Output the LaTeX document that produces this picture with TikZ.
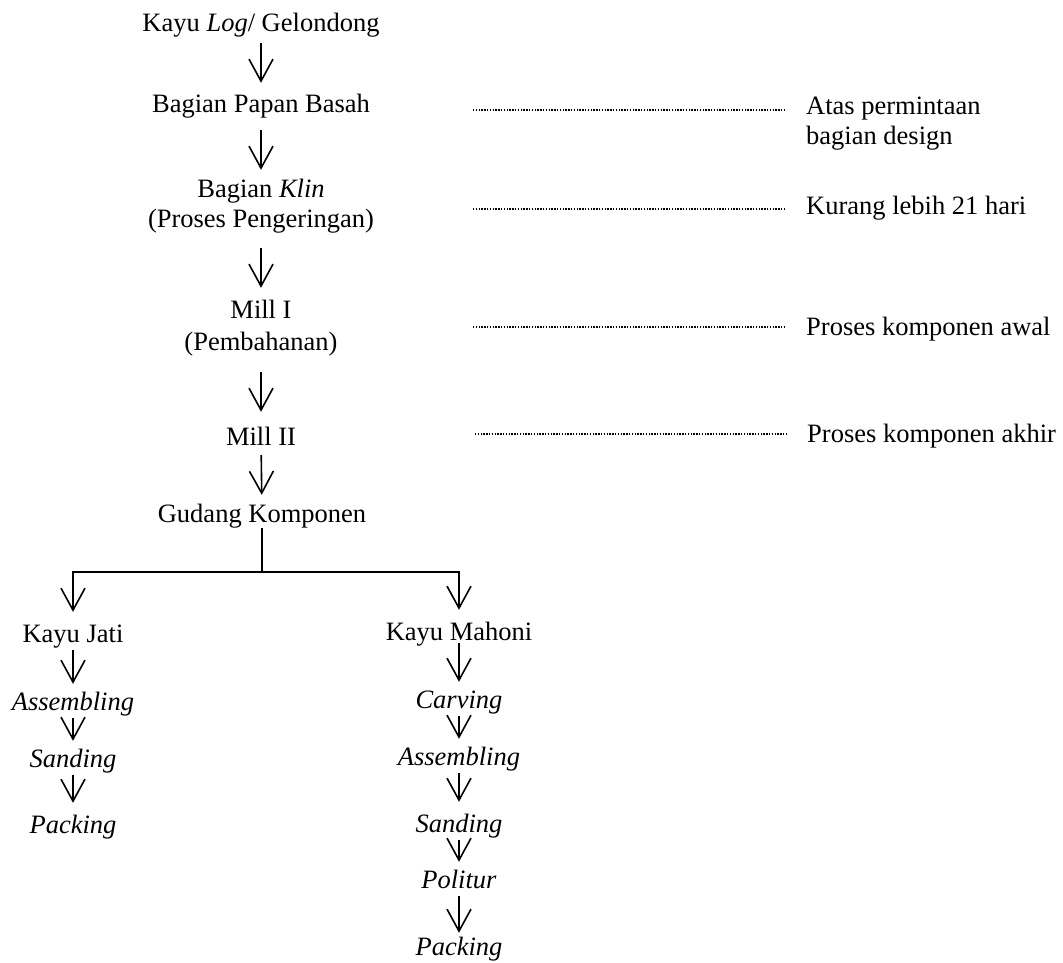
\documentclass[tikz,border=0pt]{standalone}
\usepackage{fontspec}
\setmainfont{Liberation Serif}
\usetikzlibrary{arrows.meta}
\begin{document}
\begin{tikzpicture}[
    x=1pt, y=-1pt,  % on compte en points, vers le bas
    % Étapes du processus
    proc/.style={inner sep=0pt, anchor=base, text height=19pt, text depth=6pt,
        font=\fontsize{26.5}{31}\selectfont},
    % Remarques à droite
    note/.style={inner sep=0pt, anchor=base west, font=\fontsize{26.5}{31}\selectfont},
    flow/.style={-{Straight Barb[length=22pt, width=24pt]}, line width=1.6pt,
        shorten <=2pt, shorten >=7pt},
    dots/.style={line width=1.4pt, dash pattern=on 1.4pt off 1.4pt, shorten >=21pt}
]
\useasboundingbox (0,0) rectangle (1063,963);
% Colonne principale
\node[proc] (log) at (261,32) {Kayu \textit{Log}/ Gelondong};
\node[proc] (papan) at (261,113) {Bagian Papan Basah};
\node[proc] (klin) at (261,197) {Bagian \textit{Klin}};
\node[proc] (peng) at (261,227) {(Proses Pengeringan)};
\node[proc] (mill1) at (261,318) {Mill I};
\node[proc] (pemb) at (261,350) {(Pembahanan)};
\node[proc] (mill2) at (261,445) {Mill II};
\node[proc] (gudang) at (262,522) {Gudang Komponen};
\draw[flow, shorten <=5pt, shorten >=11pt] (log) -- (papan);
\draw[flow, shorten <=11pt, shorten >=8pt] (papan) -- (klin);
\draw[flow, shorten <=15pt, shorten >=11pt] (peng) -- (mill1);
\draw[flow, shorten <=16pt, shorten >=14pt] (pemb) -- (mill2);
\draw[flow, shorten <=4pt, shorten >=8pt] (mill2) -- (gudang);
% Remarques
\node[note] (atas) at (806,115) {Atas permintaan};
\node[note] (design) at (806,145) {bagian design};
\node[note] (kurang) at (806,214) {Kurang lebih 21 hari};
\node[note] (awal) at (806,335) {Proses komponen awal};
\node[note] (akhir) at (807,442) {Proses komponen akhir};
\coordinate (d1) at (473,110);
\coordinate (d2) at (473,209);
\coordinate (d3) at (473,327);
\coordinate (d4) at (475,434);
\draw[dots] (d1) -- (d1 -| atas.west);
\draw[dots] (d2) -- (d2 -| kurang.west);
\draw[dots] (d3) -- (d3 -| awal.west);
\draw[dots] (d4) -- (d4 -| akhir.west);
% Deux branches
\node[proc] (jati) at (73,642) {Kayu Jati};
\node[proc] (asm1) at (73,710) {\textit{Assembling}};
\node[proc] (sand1) at (73,767) {\textit{Sanding}};
\node[proc] (pack1) at (73,833) {\textit{Packing}};
\node[proc] (mahoni) at (459,640) {Kayu Mahoni};
\node[proc] (carv) at (459,708) {\textit{Carving}};
\node[proc] (asm2) at (459,765) {\textit{Assembling}};
\node[proc] (sand2) at (459,832) {\textit{Sanding}};
\node[proc] (pol) at (459,888) {\textit{Politur}};
\node[proc] (pack2) at (459,955) {\textit{Packing}};
\coordinate (split) at (262,572);
\draw[line width=1.6pt] (gudang) -- (split);
\draw[flow, shorten <=0pt, shorten >=11pt] (split) -| (jati);
\draw[flow, shorten <=0pt, shorten >=11pt] (split) -| (mahoni);
\draw[flow] (jati) -- (asm1);
\draw[flow] (asm1) -- (sand1);
\draw[flow, shorten >=11pt] (sand1) -- (pack1);
\draw[flow, shorten <=-3pt] (mahoni) -- (carv);
\draw[flow] (carv) -- (asm2);
\draw[flow, shorten >=11pt] (asm2) -- (sand2);
\draw[flow] (sand2) -- (pol);
\draw[flow, shorten >=3pt] (pol) -- (pack2);
\end{tikzpicture}
\end{document}
